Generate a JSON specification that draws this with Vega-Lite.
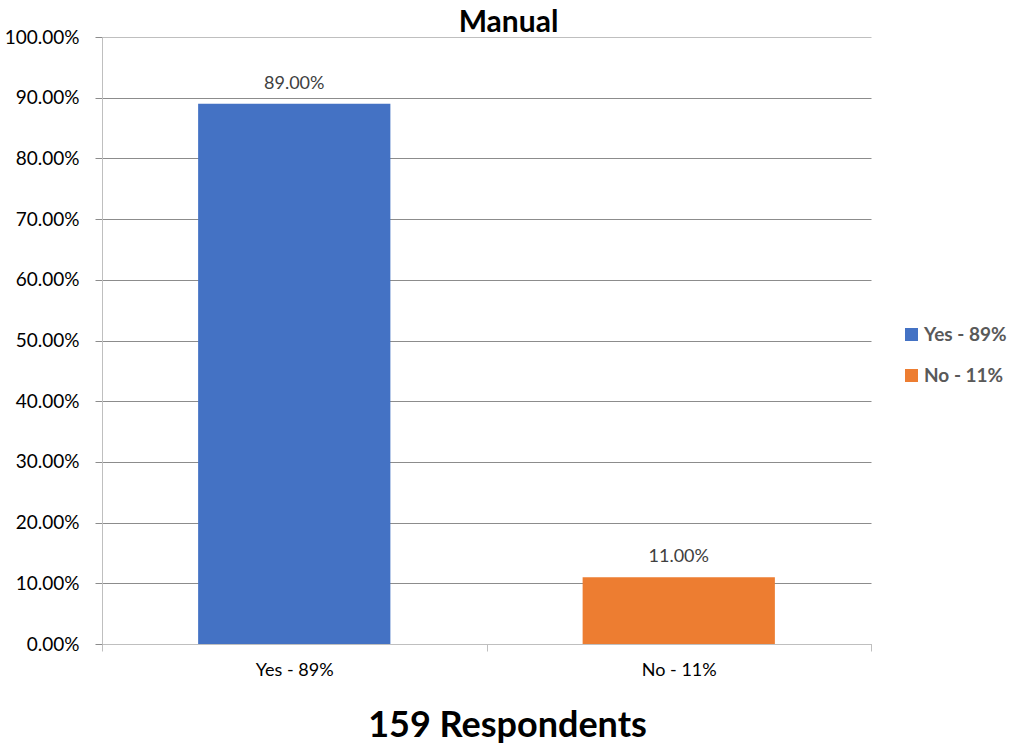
{
  "$schema": "https://vega.github.io/schema/vega-lite/v6.json",
  "autosize": "none",
  "width": 769,
  "height": 607,
  "padding": {"left": 102, "top": 37, "right": 143, "bottom": 103},
  "background": "white",
  "config": {"view": {"stroke": null}, "font": "Lato"},
  "title": {"text": "Manual", "font": "Lato", "fontSize": 30, "fontWeight": "bold", "color": "#000000", "anchor": "middle", "offset": -10, "dx": 22},
  "data": {"values": [
    {"category": "Yes - 89%", "value": 0.89},
    {"category": "No - 11%", "value": 0.11}
  ]},
  "encoding": {
    "x": {"field": "category", "type": "nominal", "sort": null,
      "scale": {"paddingInner": 0, "paddingOuter": 0},
      "axis": {"title": "159 Respondents", "titleFont": "Lato", "titleFontSize": 36, "titleFontWeight": "bold", "titleColor": "#000000", "titlePadding": 29, "titleX": 405, "titleAnchor": "middle",
        "labelAngle": 0, "labelFont": "Lato", "labelFontSize": 18, "labelColor": "#000000", "labelPadding": 10,
        "tickBand": "extent", "tickSize": 7, "tickColor": "#bfbfbf", "domainColor": "#bfbfbf", "grid": false}},
    "y": {"field": "value", "type": "quantitative",
      "scale": {"domain": [0, 1], "nice": false},
      "axis": {"title": null, "format": ".2%", "values": [0,0.1,0.2,0.3,0.4,0.5,0.6,0.7,0.8,0.9,1], "labelOverlap": false,
        "labelFont": "Lato", "labelFontSize": 19, "labelColor": "#000000", "labelPadding": 16,
        "tickSize": 7, "tickColor": "#8c8c8c", "domainColor": "#bfbfbf",
        "grid": true, "gridColor": {"condition": {"test": "datum.value == 1", "value": "#bfbfbf"}, "value": "#8c8c8c"}}}
  },
  "layer": [
    {"mark": {"type": "bar", "width": {"band": 0.5}},
      "encoding": {"color": {"field": "category", "type": "nominal", "sort": null,
        "scale": {"domain": ["Yes - 89%", "No - 11%"], "range": ["#4472C4", "#ED7D31"]},
        "legend": {"title": null, "orient": "none", "legendX": 800, "legendY": 288, "symbolType": "square", "symbolSize": 170, "symbolStrokeWidth": 0,
          "labelFont": "Lato", "labelFontSize": 19, "labelFontWeight": "bold", "labelColor": "#595959", "rowPadding": 21, "labelOffset": 3}}}},
    {"mark": {"type": "text", "baseline": "bottom", "dy": -11, "font": "Lato", "fontSize": 18, "color": "#404040"},
      "encoding": {"text": {"field": "value", "type": "quantitative", "format": ".2%"}}}
  ]
}
